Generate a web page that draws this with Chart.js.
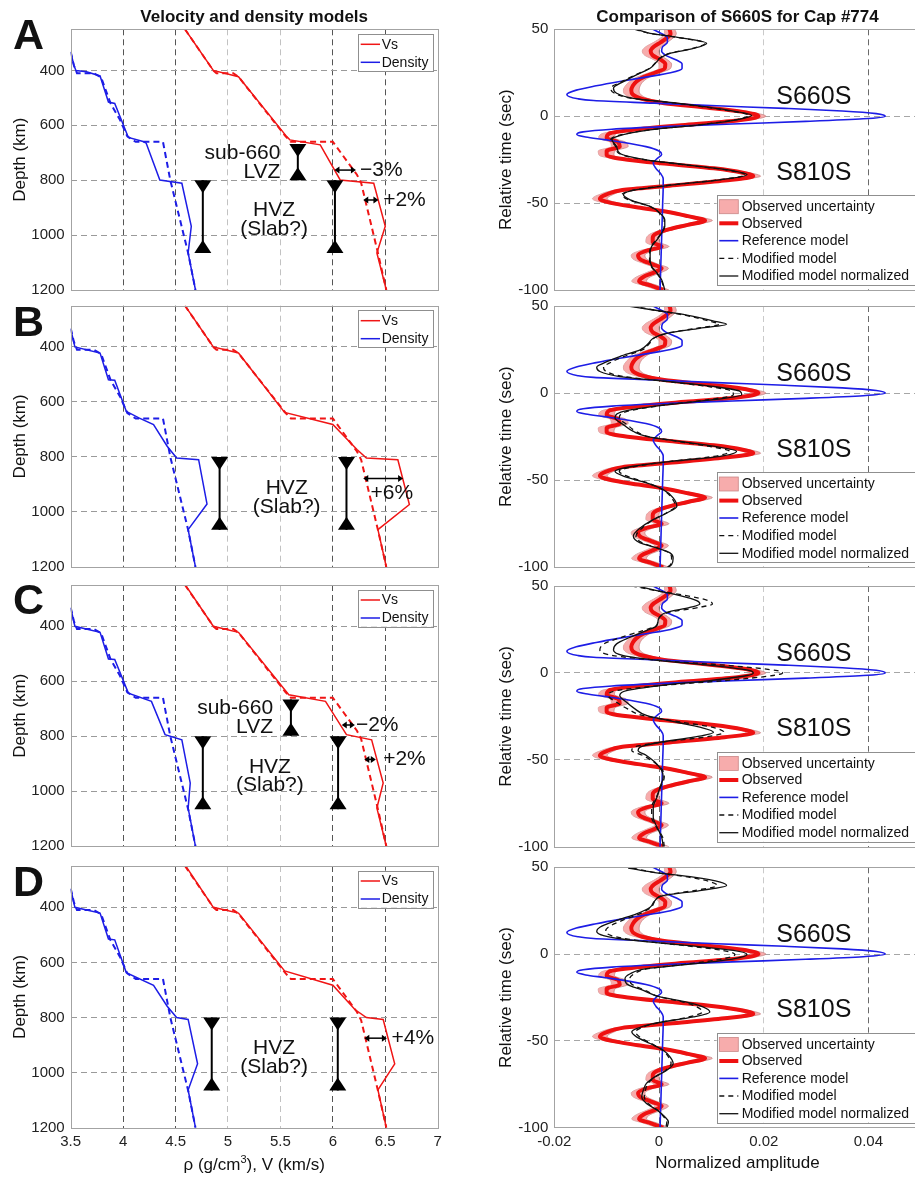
<!DOCTYPE html>
<html>
<head>
<meta charset="utf-8">
<title>Velocity and density models / Comparison of S660S</title>
<script src="https://cdn.jsdelivr.net/npm/chart.js@4.4.1/dist/chart.umd.min.js"></script>
<style>
html,body{margin:0;padding:0;width:915px;height:1179px;overflow:hidden;background:#fff;position:relative}
canvas{position:absolute;display:block}
</style>
</head>
<body>
<script>
// ---------------- tick labels ----------------
const velTicks = [3.5, 4, 4.5, 5, 5.5, 6, 6.5, 7];
const depthTicks = [400, 600, 800, 1000, 1200];
const ampTicks = [-0.02, 0, 0.02, 0.04];
const timeTicks = [50, 0, -50, -100];

// ---------------- reference 1-D model (dashed, all rows) ----------------
const refVsDepth = [250, 400, 410, 410, 423, 640, 660, 660, 780, 810, 1065, 1200];
const refVs      = [4.59, 4.86, 4.89, 5.05, 5.10, 5.55, 5.60, 6.00, 6.23, 6.27, 6.43, 6.51];
const refRhoDepth = [332, 381, 400, 410, 410, 425, 520, 580, 640, 660, 660, 800, 1065, 1200];
const refRho      = [3.50, 3.53, 3.55, 3.56, 3.72, 3.79, 3.88, 3.97, 4.04, 4.12, 4.38, 4.45, 4.62, 4.69];

// ---------------- modified models (solid) ----------------
const aVsDepth = [250, 400, 423, 641, 653, 671, 799, 811, 968, 1065, 1200];
const aVs      = [4.59, 4.86, 5.10, 5.56, 5.59, 5.88, 6.07, 6.39, 6.50, 6.42, 6.51];
const aRhoDepth = [332, 381, 400, 405, 420, 515, 520, 644, 659, 665, 799, 811, 968, 1065, 1200];
const aRho      = [3.50, 3.53, 3.55, 3.65, 3.78, 3.86, 3.92, 4.05, 4.19, 4.22, 4.35, 4.56, 4.65, 4.62, 4.69];

const bVsDepth = [250, 400, 422, 638, 682, 773, 804, 810, 973, 1064, 1200];
const bVs      = [4.59, 4.86, 5.10, 5.54, 6.00, 6.23, 6.32, 6.62, 6.73, 6.43, 6.51];
const bRhoDepth = [335, 400, 422, 519, 521, 634, 658, 682, 761, 804, 810, 971, 1064, 1200];
const bRho      = [3.50, 3.54, 3.78, 3.86, 3.92, 4.03, 4.15, 4.29, 4.42, 4.51, 4.72, 4.80, 4.62, 4.69];

const cVsDepth = [248, 400, 422, 649, 673, 794, 813, 970, 1061, 1200];
const cVs      = [4.59, 4.86, 5.10, 5.58, 5.93, 6.13, 6.37, 6.48, 6.42, 6.51];
const cRhoDepth = [333, 400, 422, 519, 521, 643, 673, 794, 813, 970, 1061, 1200];
const cRho      = [3.50, 3.54, 3.78, 3.86, 3.92, 4.05, 4.27, 4.40, 4.56, 4.64, 4.62, 4.69];

const dVsDepth = [246, 400, 421, 631, 683, 771, 800, 807, 968, 1063, 1200];
const dVs      = [4.59, 4.86, 5.10, 5.54, 6.00, 6.21, 6.32, 6.48, 6.59, 6.43, 6.51];
const dRhoDepth = [333, 400, 421, 515, 518, 637, 683, 759, 800, 807, 968, 1063, 1200];
const dRho      = [3.50, 3.54, 3.78, 3.86, 3.92, 4.03, 4.29, 4.42, 4.51, 4.62, 4.71, 4.62, 4.69];

// ---------------- observed waveform (all rows) ----------------
const obsTime = [50,47.5,45,42.5,40,37.5,35,32.5,30,27.5, 25,22.5,20,17.5,15,12.5,10,7.5,5,2.5,
  0,-2.5,-5,-7.5,-10,-12.5,-15,-17.5,-20,-22.5, -25,-27.5,-30,-32.5,-34.5,-37,-40,-42.5,-45,-47.5,
  -50,-52.5,-55,-57.5,-60,-62.5,-65,-67.5,-70,-72.5, -75,-77.5,-80,-82.5,-85,-87.5,-90,-92.5,-95,-97.5, -100];
const obsAmp = [0.0020,0.0022,0.0015,0.0003,-0.0010,-0.0016,-0.0012,0.0003,0.0012,0.0011,
  -0.0008,-0.0030,-0.0043,-0.0050,-0.0053,-0.0050,-0.0032,0.0010,0.0090,0.0160,
  0.0190,0.0150,0.0050,-0.0040,-0.0095,-0.0100,-0.0078,-0.0075,-0.0100,-0.0100,
  -0.0060,0.0020,0.0105,0.0160,0.0180,0.0125,0.0020,-0.0070,-0.0100,-0.0113,
  -0.0090,-0.0040,0.0015,0.0055,0.0088,0.0055,0.0020,-0.0005,-0.0012,-0.0012,
  0.0005,-0.0025,-0.0040,-0.0035,-0.0015,0.0005,-0.0010,-0.0030,-0.0038,-0.0015, 0.0008];
const obsUnc = [0.0010,0.0011,0.0012,0.0013,0.0015,0.0016,0.0015,0.0013,0.0012,0.0011,
  0.0011,0.0012,0.0013,0.0014,0.0015,0.0015,0.0013,0.0011,0.0010,0.0011,
  0.0014,0.0012,0.0010,0.0010,0.0013,0.0015,0.0015,0.0016,0.0016,0.0014,
  0.0011,0.0010,0.0010,0.0012,0.0014,0.0012,0.0010,0.0011,0.0013,0.0014,
  0.0013,0.0011,0.0010,0.0011,0.0014,0.0012,0.0010,0.0010,0.0012,0.0013,
  0.0014,0.0013,0.0013,0.0013,0.0012,0.0013,0.0014,0.0013,0.0014,0.0013, 0.0011];

// ---------------- reference model synthetic (all rows) ----------------
const refTime = [50,47.5,45,42.5,40,37.5,35,32.5,30,27.5, 25,22.5,20,17.5,15,12.5,10,9,7.5,6,
  4.5,3,1.5,0,-1.5,-3,-4.5,-6,-7.5,-9, -10.5,-12,-13.5,-15,-17.5,-20,-22,-24.5,-27,-30,
  -33,-36,-40,-50,-60,-70,-80,-90,-100];
const refAmp = [-0.0012,0.0005,0.0016,0.0016,0.0007,0.0005,0.0013,0.0032,0.0044,0.0044,
  0.0022,-0.0025,-0.0075,-0.0120,-0.0158,-0.0176,-0.0155,-0.0125,-0.0010,0.0110,
  0.0240,0.0350,0.0415,0.0432,0.0390,0.0280,0.0140,0.0010,-0.0090,-0.0145,
  -0.0157,-0.0140,-0.0105,-0.0070,-0.0025,0.0000,0.0005,-0.0004,-0.0011,-0.0006,
  0.0003,0.0008,0.0008,0.0007,0.0006,0.0005,0.0004,0.0003,0.0002];

// ---------------- modified-model synthetics per row ----------------
const aTime = [50,47.7,45.8,42,39,36.2,33.3,31.4,27.6,23.8, 19.9,16.1,13.2,10.3,7.5,3.6,0.5,-2.1,-5,-7.9,
  -11.7,-13.6,-17.4,-21.3,-25.1,-28,-30.8,-33.7,-36.6,-39.5, -42.3,-45.2,-48.1,-51.9,-55.8,-59.6,-63.4,-67.3,-71.1,-74.9,
  -78.7,-82.6,-86.4,-90.2,-94.1,-100];
const aNorm = [-0.0043,-0.0017,0.0027,0.0091,0.0066,0.0021,0.0002,-0.0004,-0.0017,-0.0043,
  -0.0068,-0.0087,-0.0081,-0.0049,0.0034,0.0129,0.0177,0.0148,0.0078,-0.0017,
  -0.0081,-0.0090,-0.0081,-0.0075,-0.0024,0.0053,0.0129,0.0168,0.0117,0.0027,
  -0.0043,-0.0068,-0.0055,-0.0017,0.0002,0.0011,0.0011,0.0005,-0.0004,-0.0014,
  -0.0017,-0.0017,-0.0014,-0.0004,0.0005,0.0011];
const aMod = [-0.0046,-0.0019,0.0025,0.0088,0.0064,0.0020,0.0001,-0.0005,-0.0018,-0.0045,
  -0.0071,-0.0092,-0.0085,-0.0052,0.0031,0.0124,0.0172,0.0145,0.0075,-0.0019,
  -0.0084,-0.0092,-0.0083,-0.0077,-0.0026,0.0050,0.0125,0.0165,0.0115,0.0025,
  -0.0045,-0.0071,-0.0058,-0.0018,0.0001,0.0010,0.0010,0.0004,-0.0005,-0.0015,
  -0.0018,-0.0018,-0.0015,-0.0005,0.0004,0.0010];

const bTime = [50,47.7,44.8,41,39.5,37.2,34.3,31.5,28.6,24.8, 21,17.2,14.9,12.4,9.5,6.7,3.8,1,-1,-3.8,
  -6.7,-10.5,-14.3,-18.1,-22,-24.8,-27.7,-30.5,-33.4,-36.3, -39.1,-42,-44.9,-47.7,-51.5,-55.4,-60.1,-64.9,-68.8,-72.6,
  -77.4,-82.2,-86,-88.9,-91.7,-94.6,-98.4,-100];
const bNorm = [-0.0059,-0.0011,0.0053,0.0110,0.0129,0.0078,0.0015,-0.0011,-0.0020,-0.0036,
  -0.0075,-0.0106,-0.0119,-0.0113,-0.0075,0.0015,0.0104,0.0155,0.0158,0.0104,
  0.0015,-0.0068,-0.0084,-0.0068,-0.0049,-0.0024,0.0040,0.0104,0.0148,0.0117,
  0.0027,-0.0049,-0.0084,-0.0068,-0.0024,0.0008,0.0027,0.0034,0.0015,-0.0011,
  -0.0036,-0.0049,-0.0036,-0.0004,0.0021,0.0027,0.0024,0.0018];
const bMod = [-0.0052,-0.0010,0.0048,0.0100,0.0115,0.0072,0.0014,-0.0010,-0.0018,-0.0032,
  -0.0067,-0.0095,-0.0106,-0.0101,-0.0068,0.0012,0.0093,0.0140,0.0142,0.0094,
  0.0014,-0.0061,-0.0076,-0.0061,-0.0044,-0.0022,0.0036,0.0094,0.0135,0.0105,
  0.0024,-0.0044,-0.0076,-0.0061,-0.0022,0.0007,0.0024,0.0031,0.0014,-0.0010,
  -0.0032,-0.0044,-0.0032,-0.0004,0.0019,0.0024,0.0022,0.0016];

const cTime = [50,47.3,44.5,41.6,39.7,37.7,34.9,31,27.2,24.3, 20.5,16.7,13.2,10,7.1,4.2,1.3,0,-1.5,-4.4,
  -7.3,-10.2,-13,-16.9,-20.7,-24.5,-28.4,-31.2,-34.1,-37, -39.9,-42.7,-44.6,-47.5,-51.3,-56.1,-59.9,-65.6,-71.5,-77.2,
  -83,-88.7,-94.5,-100];
const cNorm = [-0.0040,-0.0004,0.0040,0.0072,0.0078,0.0059,0.0015,-0.0001,-0.0004,-0.0024,
  -0.0055,-0.0081,-0.0087,-0.0068,0.0002,0.0104,0.0174,0.0180,0.0168,0.0097,
  0.0002,-0.0062,-0.0075,-0.0062,-0.0046,-0.0024,0.0034,0.0078,0.0104,0.0066,
  0.0002,-0.0036,-0.0040,-0.0024,-0.0008,0.0005,0.0008,0.0002,-0.0004,-0.0011,
  -0.0011,-0.0004,0.0005,0.0008];
const cMod = [-0.0052,-0.0005,0.0052,0.0094,0.0102,0.0077,0.0020,-0.0001,-0.0005,-0.0031,
  -0.0072,-0.0105,-0.0113,-0.0088,0.0003,0.0135,0.0226,0.0236,0.0218,0.0126,
  0.0003,-0.0081,-0.0097,-0.0081,-0.0060,-0.0031,0.0044,0.0101,0.0124,0.0086,
  0.0003,-0.0047,-0.0052,-0.0031,-0.0010,0.0007,0.0010,0.0003,-0.0005,-0.0014,
  -0.0014,-0.0005,0.0007,0.0010];

const dTime = [49.6,47.1,44.3,41.4,39.5,36.6,33.7,30.8,27,23.2, 19.4,15.5,13.2,10.7,7.9,5,2.1,-0.2,-2.7,-5.6,
  -8.4,-11.3,-14.2,-17.1,-20.9,-24.7,-27.6,-30.5,-33.3,-36.2, -40,-42.9,-44.8,-47.7,-51.5,-55.4,-59.2,-63,-66.9,-70.7,
  -74.5,-78.4,-82.2,-86,-89.8,-93.7,-96.6,-100];
const dNorm = [-0.0059,-0.0011,0.0066,0.0117,0.0129,0.0078,0.0008,-0.0008,-0.0017,-0.0043,
  -0.0081,-0.0113,-0.0119,-0.0106,-0.0049,0.0053,0.0142,0.0168,0.0142,0.0066,
  -0.0024,-0.0055,-0.0065,-0.0062,-0.0030,0.0002,0.0053,0.0085,0.0097,0.0066,
  -0.0011,-0.0043,-0.0052,-0.0043,-0.0017,0.0008,0.0021,0.0027,0.0015,-0.0008,
  -0.0024,-0.0030,-0.0033,-0.0024,-0.0004,0.0011,0.0018,0.0015];
const dMod = [-0.0051,-0.0009,0.0057,0.0101,0.0111,0.0067,0.0007,-0.0007,-0.0015,-0.0037,
  -0.0070,-0.0097,-0.0102,-0.0091,-0.0042,0.0046,0.0122,0.0145,0.0122,0.0057,
  -0.0021,-0.0047,-0.0056,-0.0053,-0.0026,0.0002,0.0046,0.0073,0.0083,0.0057,
  -0.0009,-0.0037,-0.0045,-0.0037,-0.0015,0.0007,0.0018,0.0023,0.0013,-0.0007,
  -0.0021,-0.0026,-0.0028,-0.0021,-0.0003,0.0009,0.0015,0.0013];

// =====================================================================
const FAM = '"Liberation Sans", Arial, Helvetica, sans-serif';
const F = (s, b) => (b ? 'bold ' : '') + s + 'px ' + FAM;
const TXT = '#222222';
const RED = '#f01515', BLUE = '#1d1de6', OBSRED = '#ee1111';
const PINK = 'rgba(246,163,163,0.9)', BANDEDGE = 'rgba(196,128,128,0.9)';
Chart.defaults.font.family = FAM;
Chart.defaults.color = TXT;

const pts = (xs, ys) => xs.map((x, i) => ({x: x, y: ys[i]}));

function hourglass(ctx, x, y1, y2) {
  const hw = 8.5, th = 13;
  ctx.save();
  ctx.strokeStyle = '#000'; ctx.fillStyle = '#000'; ctx.lineWidth = 2; ctx.setLineDash([]);
  ctx.beginPath(); ctx.moveTo(x, y1); ctx.lineTo(x, y2); ctx.stroke();
  ctx.beginPath(); ctx.moveTo(x - hw, y1); ctx.lineTo(x + hw, y1); ctx.lineTo(x, y1 + th); ctx.closePath(); ctx.fill();
  ctx.beginPath(); ctx.moveTo(x - hw, y2); ctx.lineTo(x + hw, y2); ctx.lineTo(x, y2 - th); ctx.closePath(); ctx.fill();
  ctx.restore();
}
function dblArrow(ctx, x1, x2, y) {
  const hl = 5, hw = 3.5;
  ctx.save();
  ctx.strokeStyle = '#000'; ctx.fillStyle = '#000'; ctx.lineWidth = 1.5; ctx.setLineDash([]);
  ctx.beginPath(); ctx.moveTo(x1 + 2, y); ctx.lineTo(x2 - 2, y); ctx.stroke();
  ctx.beginPath(); ctx.moveTo(x1, y); ctx.lineTo(x1 + hl, y - hw); ctx.lineTo(x1 + hl, y + hw); ctx.closePath(); ctx.fill();
  ctx.beginPath(); ctx.moveTo(x2, y); ctx.lineTo(x2 - hl, y - hw); ctx.lineTo(x2 - hl, y + hw); ctx.closePath(); ctx.fill();
  ctx.restore();
}
function text(ctx, s, x, y, font, align, base) {
  ctx.font = font; ctx.fillStyle = '#111'; ctx.textAlign = align || 'left'; ctx.textBaseline = base || 'middle';
  ctx.fillText(s, x, y);
}

function makePanel(o) {
  const cv = document.createElement('canvas');
  cv.width = o.w; cv.height = o.h;
  cv.style.left = o.left + 'px'; cv.style.top = o.top + 'px';
  cv.style.width = o.w + 'px'; cv.style.height = o.h + 'px';
  document.body.appendChild(cv);
  const a = o.area;
  const overlay = {
    id: 'overlay',
    afterDraw(chart) {
      const ctx = chart.ctx, ca = chart.chartArea;
      const X = v => chart.scales.x.getPixelForValue(v) + o.left;
      const Y = v => chart.scales.y.getPixelForValue(v) + o.top;
      ctx.save();
      ctx.translate(-o.left, -o.top);
      ctx.strokeStyle = '#a3a3a3'; ctx.lineWidth = 1; ctx.setLineDash([]);
      ctx.strokeRect(Math.round(ca.left + o.left) + 0.5, Math.round(ca.top + o.top) + 0.5,
        Math.round(ca.right - ca.left), Math.round(ca.bottom - ca.top));
      o.draw(ctx, X, Y, {l: ca.left + o.left, r: ca.right + o.left, t: ca.top + o.top, b: ca.bottom + o.top});
      ctx.restore();
    }
  };
  return new Chart(cv, {
    type: 'line',
    data: {datasets: o.datasets},
    options: {
      responsive: false, animation: false, devicePixelRatio: 1, events: [],
      indexAxis: 'y',
      layout: {padding: {top: a.t - o.top, right: o.left + o.w - a.r, bottom: 0, left: 0}},
      plugins: {legend: {display: false}, tooltip: {enabled: false}, title: {display: false}},
      scales: {
        x: {
          type: 'linear', position: 'bottom', min: o.xMin, max: o.xMax,
          afterBuildTicks: s => { s.ticks = o.xTicks.map(v => ({value: v})); },
          afterFit: s => { s.height = o.top + o.h - a.b; },
          ticks: {display: o.showX, font: {size: 15}, color: TXT, padding: 5, maxRotation: 0, autoSkip: false,
                  callback: v => String(v)},
          grid: {drawTicks: false, lineWidth: 1, color: c => o.vGrid(c.tick.value)},
          border: {display: false, dash: [6, 4]}
        },
        y: {
          type: 'linear', position: 'left', min: o.yMin, max: o.yMax, reverse: o.reverse,
          afterBuildTicks: s => { s.ticks = o.yTicks.map(v => ({value: v})); },
          afterFit: s => { s.width = a.l - o.left; },
          ticks: {font: {size: 15}, color: TXT, padding: 6, autoSkip: false, callback: v => String(v)},
          grid: {drawTicks: false, lineWidth: 1, color: c => o.hGrid(c.tick.value)},
          border: {display: false, dash: [6, 4]}
        }
      }
    },
    plugins: [overlay]
  });
}

const leftV = v => ([4, 4.5, 6, 6.5].includes(v) ? '#555555' : (v === 5 || v === 5.5) ? '#c2c2c2' : 'rgba(0,0,0,0)');
const leftH = v => (v === 1200 ? 'rgba(0,0,0,0)' : '#9a9a9a');
const rightV = v => (v === 0 || v === 0.04) ? '#6a6a6a' : (v === 0.02 ? '#cacaca' : 'rgba(0,0,0,0)');
const rightH = v => (v === 0 || v === -50) ? '#a6a6a6' : 'rgba(0,0,0,0)';

const rows = [
  {letter: 'A', letterY: 37.5, lt: 29.3, lb: 290, rt: 29.3, rb: 290, ctop: 0, cbot: 312,
   vsD: aVsDepth, vs: aVs, rhoD: aRhoDepth, rho: aRho, mt: aTime, mn: aNorm, mm: aMod,
   lvz: {x: 5.666, top: 668, bot: 800}, hvz: [4.76, 6.02],
   arrows: [{x1: 6.015, x2: 6.22, d: 763}, {x1: 6.29, x2: 6.435, d: 872}],
   labels: [{s: 'sub-660', x: 5.50, d: 701, al: 'right'}, {s: 'LVZ', x: 5.50, d: 770, al: 'right'},
            {s: 'HVZ', x: 5.44, d: 908, al: 'center'}, {s: '(Slab?)', x: 5.44, d: 978, al: 'center'},
            {s: '\u22123%', x: 6.26, d: 763, al: 'left'}, {s: '+2%', x: 6.48, d: 872, al: 'left'}]},
  {letter: 'B', letterY: 324, lt: 305.7, lb: 567, rt: 306, rb: 567.3, ctop: 276, cbot: 590,
   vsD: bVsDepth, vs: bVs, rhoD: bRhoDepth, rho: bRho, mt: bTime, mn: bNorm, mm: bMod,
   lvz: null, hvz: [4.92, 6.13],
   arrows: [{x1: 6.29, x2: 6.67, d: 878}],
   labels: [{s: 'HVZ', x: 5.56, d: 913, al: 'center'}, {s: '(Slab?)', x: 5.56, d: 982, al: 'center'},
            {s: '+6%', x: 6.36, d: 931, al: 'left'}]},
  {letter: 'C', letterY: 602, lt: 585, lb: 846.3, rt: 586, rb: 846.7, ctop: 555, cbot: 868,
   vsD: cVsDepth, vs: cVs, rhoD: cRhoDepth, rho: cRho, mt: cTime, mn: cNorm, mm: cMod,
   lvz: {x: 5.60, top: 666, bot: 798}, hvz: [4.76, 6.05],
   arrows: [{x1: 6.085, x2: 6.21, d: 759}, {x1: 6.30, x2: 6.41, d: 884}],
   labels: [{s: 'sub-660', x: 5.43, d: 697, al: 'right'}, {s: 'LVZ', x: 5.43, d: 766, al: 'right'},
            {s: 'HVZ', x: 5.40, d: 912, al: 'center'}, {s: '(Slab?)', x: 5.40, d: 977, al: 'center'},
            {s: '\u22122%', x: 6.22, d: 759, al: 'left'}, {s: '+2%', x: 6.48, d: 884, al: 'left'}]},
  {letter: 'D', letterY: 884, lt: 866, lb: 1127.7, rt: 867.3, rb: 1127.7, ctop: 836, cbot: 1179,
   vsD: dVsDepth, vs: dVs, rhoD: dRhoDepth, rho: dRho, mt: dTime, mn: dNorm, mm: dMod,
   lvz: null, hvz: [4.845, 6.047],
   arrows: [{x1: 6.30, x2: 6.515, d: 875}],
   labels: [{s: 'HVZ', x: 5.44, d: 911, al: 'center'}, {s: '(Slab?)', x: 5.44, d: 980, al: 'center'},
            {s: '+4%', x: 6.56, d: 875, al: 'left'}]}
];

rows.forEach((r, ri) => {
  const isTop = ri === 0, isBottom = ri === rows.length - 1;

  // ------------ left: velocity and density (first dataset is drawn on top) ------------
  makePanel({
    left: 0, top: r.ctop, w: 460, h: r.cbot - r.ctop,
    area: {l: 70.7, r: 437.7, t: r.lt, b: r.lb},
    xMin: 3.5, xMax: 7, xTicks: velTicks, yMin: 250, yMax: 1200, yTicks: depthTicks, reverse: true,
    showX: isBottom, vGrid: leftV, hGrid: leftH,
    datasets: [
      {data: pts(r.vs, r.vsD), borderColor: RED, borderWidth: 1.5},
      {data: pts(refVs, refVsDepth), borderColor: RED, borderWidth: 2, borderDash: [6, 4]},
      {data: pts(r.rho, r.rhoD), borderColor: BLUE, borderWidth: 1.5},
      {data: pts(refRho, refRhoDepth), borderColor: BLUE, borderWidth: 2, borderDash: [6, 4]}
    ].map(d => Object.assign({pointRadius: 0, fill: false, tension: 0}, d)),
    draw(ctx, X, Y, A) {
      text(ctx, r.letter, 28.5, r.letterY, F(43, true), 'center', 'middle');
      if (isTop) text(ctx, 'Velocity and density models', (A.l + A.r) / 2, 17, F(17, true), 'center', 'middle');
      ctx.save(); ctx.translate(20, (A.t + A.b) / 2); ctx.rotate(-Math.PI / 2);
      text(ctx, 'Depth (km)', 0, 0, F(17), 'center', 'middle'); ctx.restore();
      if (r.lvz) hourglass(ctx, X(r.lvz.x), Y(r.lvz.top), Y(r.lvz.bot));
      r.hvz.forEach(x => hourglass(ctx, X(x), Y(800), Y(1065)));
      r.arrows.forEach(ar => dblArrow(ctx, X(ar.x1), X(ar.x2), Y(ar.d)));
      r.labels.forEach(lb => text(ctx, lb.s, X(lb.x), Y(lb.d), F(21), lb.al, 'middle'));
      const bx = A.r - 79.4, by = A.t + 4.7, bw = 75, bh = 37;
      ctx.fillStyle = '#fff'; ctx.fillRect(bx, by, bw, bh);
      ctx.strokeStyle = '#8f8f8f'; ctx.lineWidth = 1; ctx.setLineDash([]);
      ctx.strokeRect(Math.round(bx) + 0.5, Math.round(by) + 0.5, bw, bh);
      [[RED, 'Vs', 10.3], [BLUE, 'Density', 28.3]].forEach(e => {
        ctx.strokeStyle = e[0]; ctx.lineWidth = 1.5;
        ctx.beginPath(); ctx.moveTo(bx + 2.4, by + e[2]); ctx.lineTo(bx + 21.7, by + e[2]); ctx.stroke();
        text(ctx, e[1], bx + 23.4, by + e[2] + 0.5, F(14), 'left', 'middle');
      });
      if (isBottom) {
        const cx = (A.l + A.r) / 2, yb = 1170;
        const p1 = '\u03c1 (g/cm', p2 = '3', p3 = '), V (km/s)';
        ctx.font = F(17); const w1 = ctx.measureText(p1).width, w3 = ctx.measureText(p3).width;
        ctx.font = F(11); const w2 = ctx.measureText(p2).width;
        let x = cx - (w1 + w2 + w3) / 2;
        text(ctx, p1, x, yb, F(17), 'left', 'alphabetic'); x += w1;
        text(ctx, p2, x, yb - 7, F(11), 'left', 'alphabetic'); x += w2;
        text(ctx, p3, x, yb, F(17), 'left', 'alphabetic');
      }
    }
  });

  // ------------ right: waveform comparison (first dataset is drawn on top) ------------
  const lo = obsAmp.map((v, i) => v - obsUnc[i]);
  const hi = obsAmp.map((v, i) => v + obsUnc[i]);
  makePanel({
    left: 460, top: r.ctop, w: 470, h: r.cbot - r.ctop,
    area: {l: 554.3, r: 920.8, t: r.rt, b: r.rb},
    xMin: -0.02, xMax: 0.05, xTicks: ampTicks, yMin: -100, yMax: 50, yTicks: timeTicks, reverse: false,
    showX: isBottom, vGrid: rightV, hGrid: rightH,
    datasets: [
      {data: pts(r.mn, r.mt), borderColor: '#111', borderWidth: 1.3, fill: false},
      {data: pts(r.mm, r.mt), borderColor: '#111', borderWidth: 1.3, borderDash: [5, 4], fill: false},
      {data: pts(refAmp, refTime), borderColor: BLUE, borderWidth: 1.6, fill: false},
      {data: pts(obsAmp, obsTime), borderColor: OBSRED, borderWidth: 4, fill: false},
      {data: pts(hi, obsTime), borderColor: BANDEDGE, borderWidth: 0.8, fill: '+1', backgroundColor: PINK},
      {data: pts(lo, obsTime), borderColor: BANDEDGE, borderWidth: 0.8, fill: false}
    ].map(d => Object.assign({pointRadius: 0, cubicInterpolationMode: 'monotone'}, d)),
    draw(ctx, X, Y, A) {
      if (isTop) text(ctx, 'Comparison of S660S for Cap #774', 737.5, 17, F(17, true), 'center', 'middle');
      ctx.save(); ctx.translate(506, (A.t + A.b) / 2); ctx.rotate(-Math.PI / 2);
      text(ctx, 'Relative time (sec)', 0, 0, F(17), 'center', 'middle'); ctx.restore();
      text(ctx, 'S660S', X(0.0224), Y(11), F(25), 'left', 'middle');
      text(ctx, 'S810S', X(0.0224), Y(-32.5), F(25), 'left', 'middle');
      const bx = 716.7, by = A.b - 95, bw = 202, bh = 90;
      ctx.fillStyle = '#fff'; ctx.fillRect(bx, by, bw, bh);
      ctx.strokeStyle = '#8f8f8f'; ctx.lineWidth = 1; ctx.setLineDash([]);
      ctx.strokeRect(Math.round(bx) + 0.5, Math.round(by) + 0.5, bw, bh);
      const rowsY = [11.7, 28.3, 45.7, 63.3, 81];
      const x0 = bx + 2.6, x1 = bx + 21.6;
      ctx.fillStyle = PINK; ctx.fillRect(x0, by + rowsY[0] - 7, x1 - x0, 14);
      ctx.strokeStyle = BANDEDGE; ctx.lineWidth = 0.8; ctx.strokeRect(x0, by + rowsY[0] - 7, x1 - x0, 14);
      const seg = (col, w, dash, yy) => {
        ctx.save(); ctx.strokeStyle = col; ctx.lineWidth = w; ctx.setLineDash(dash);
        ctx.beginPath(); ctx.moveTo(x0, yy); ctx.lineTo(x1, yy); ctx.stroke(); ctx.restore();
      };
      seg(OBSRED, 4, [], by + rowsY[1]);
      seg(BLUE, 1.6, [], by + rowsY[2]);
      seg('#111', 1.3, [5, 4], by + rowsY[3]);
      seg('#111', 1.3, [], by + rowsY[4]);
      ['Observed uncertainty', 'Observed', 'Reference model', 'Modified model', 'Modified model normalized']
        .forEach((s, i) => text(ctx, s, bx + 25, by + rowsY[i] + 0.5, F(14), 'left', 'middle'));
      if (isBottom) text(ctx, 'Normalized amplitude', 737.5, 1168, F(17), 'center', 'alphabetic');
    }
  });
});
</script>
</body>
</html>
